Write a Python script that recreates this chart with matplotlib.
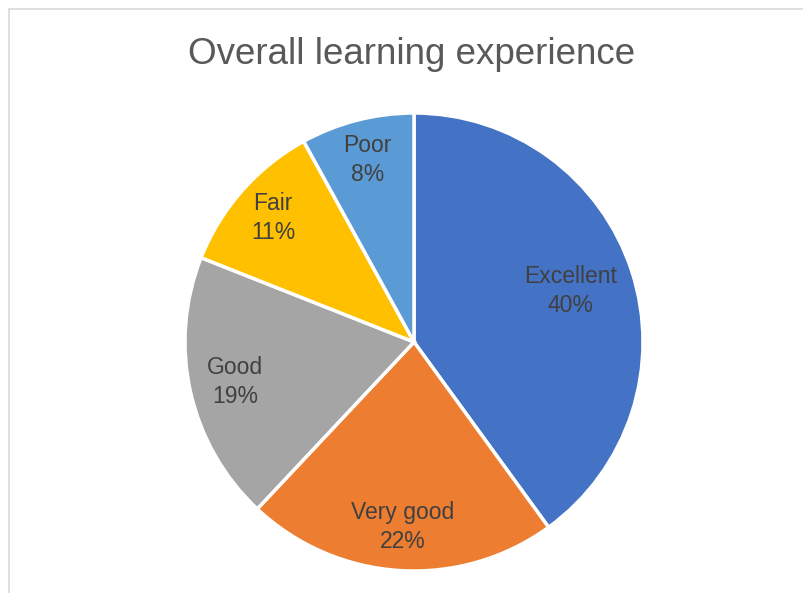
import numpy as np
import matplotlib
matplotlib.use("Agg")
import matplotlib.pyplot as plt
from matplotlib.patches import Rectangle

# data
categories = ["Excellent", "Very good", "Good", "Fair", "Poor"]
shares = [40, 22, 19, 11, 8]
colors = ["#4472C4", "#ED7D31", "#A5A5A5", "#FFC000", "#5B9BD5"]
label_radius = [0.72, 0.81, 0.80, 0.82, 0.82]

plt.rcParams['font.family'] = ['Liberation Sans', 'DejaVu Sans']

W, H = 804, 593
fig = plt.figure(figsize=(W / 100, H / 100), dpi=100)
fig.patch.set_facecolor("white")

# pie area: centre (414, 342) px, radius 229 px
cx, cy, r = 414, 342, 229
ax = fig.add_axes([(cx - r) / W, (H - cy - r) / H, 2 * r / W, 2 * r / H])

wedges, _ = ax.pie(shares, colors=colors, startangle=90, counterclock=False,
                   wedgeprops=dict(edgecolor="white", linewidth=2.5))
ax.set_xlim(-1, 1)
ax.set_ylim(-1, 1)
ax.set_aspect("equal")
ax.axis("off")

for w, name, val, rr in zip(wedges, categories, shares, label_radius):
    ang = np.deg2rad((w.theta1 + w.theta2) / 2)
    ax.text(rr * np.cos(ang), rr * np.sin(ang), f"{name}\n{val}%",
            ha="center", va="center", fontsize=16.5, color="#404040",
            linespacing=1.32)

fig.text(412 / W, 1 - 54 / H, "Overall learning experience",
         ha="center", va="center", fontsize=26.5, color="#595959")

# light chart-area border (top and left visible)
fig.patches.append(Rectangle((9 / W, -0.1), 1.2, (H - 9) / H + 0.1,
                             transform=fig.transFigure, fill=False,
                             edgecolor="#d9d9d9", linewidth=1.2))

fig.savefig("out.png", dpi=100)
